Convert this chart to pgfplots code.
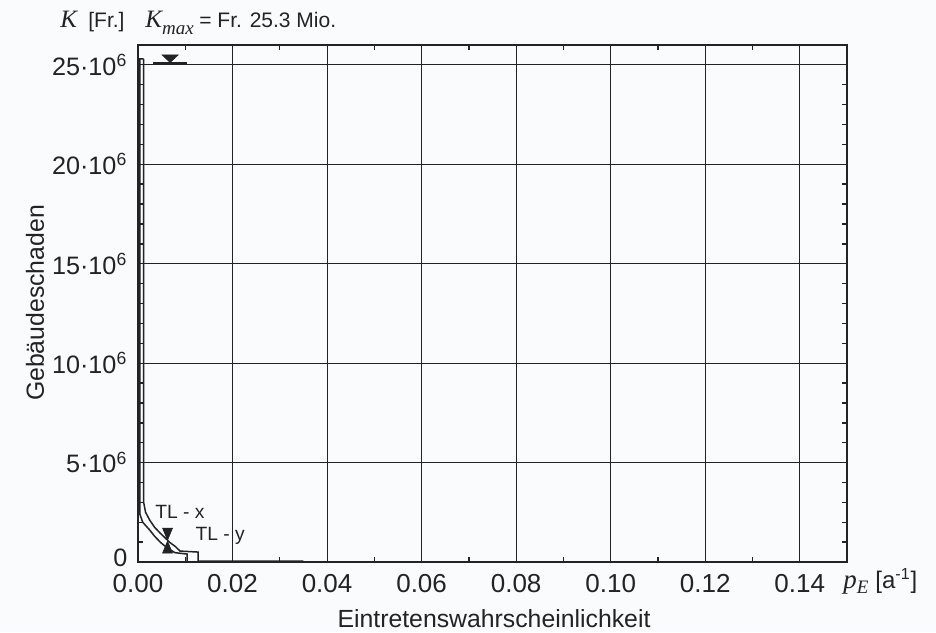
\documentclass[border=0pt]{standalone}
\usepackage{fontspec}
\setmainfont{Liberation Sans}
\newfontfamily\serifit{Liberation Serif}
\usepackage{pgfplots}
\pgfplotsset{compat=1.18}
\definecolor{ink}{RGB}{35,35,35}
\definecolor{paper}{RGB}{249,251,253}

\begin{document}
\fontsize{12.4}{15}\selectfont
\begin{tikzpicture}
\fill[paper] (-69pt,-35pt) rectangle (399pt,281pt);
\begin{axis}[
    at={(0,0)}, anchor=south west,
    scale only axis, width=354.5pt, height=258.5pt,
    xmin=0, xmax=0.15, ymin=0, ymax=26e6,
    xtick={0,0.02,0.04,0.06,0.08,0.10,0.12,0.14},
    xticklabels={0.00,0.02,0.04,0.06,0.08,0.10,0.12,0.14},
    ytick={0,5e6,10e6,15e6,20e6,25e6},
    yticklabels={\raisebox{4pt}{0},5·10\textsuperscript{6},10·10\textsuperscript{6},15·10\textsuperscript{6},20·10\textsuperscript{6},25·10\textsuperscript{6}},
    scaled y ticks=false, scaled x ticks=false,
    minor x tick num=1, minor y tick num=4,
    tick align=inside,
    major tick length=0pt, minor tick length=2.6pt,
    every tick/.style={ink, line width=0.7pt},
    grid=major,
    major grid style={ink, line width=0.5pt},
    axis line style={ink, line width=0.8pt},
    ticklabel style={ink},
    xticklabel style={yshift=-2pt, font=\fontsize{13}{15}\selectfont},
    yticklabel style={xshift=-1pt, font=\fontsize{12.6}{15}\selectfont},
]

% TL - x
\addplot[ink, line width=0.75pt] coordinates {
    (0.0012,25.3e6) (0.0012,3.0e6) (0.0016,2.5e6) (0.0025,2.1e6)
    (0.0035,1.75e6) (0.0047,1.45e6) (0.0058,1.2e6) (0.0068,0.97e6)
    (0.0079,0.78e6) (0.0089,0.55e6) (0.0127,0.5e6) (0.0127,0.05e6)
    (0.035,0.05e6)
};

% TL - y
\addplot[ink, line width=0.75pt] coordinates {
    (0.0012,25.3e6) (0.0004,25.3e6) (0.0004,2.4e6) (0.0010,2.0e6)
    (0.0025,1.6e6) (0.0035,1.3e6) (0.0047,1.0e6) (0.0061,0.72e6)
    (0.0078,0.47e6) (0.0104,0.4e6) (0.0104,0)
};

% Kmax level
\addplot[ink, line width=0.6pt] coordinates {(0.0032,25.1e6) (0.0104,25.1e6)};
\addplot[ink, fill=ink, line width=0.3pt] coordinates {
    (0.0051,25.5e6) (0.0085,25.5e6) (0.0068,25.12e6)} -- cycle;

% interval markers
\addplot[ink, fill=ink, line width=0.3pt] coordinates {
    (0.0052,1.7e6) (0.0073,1.7e6) (0.00625,1.1e6)} -- cycle;
\addplot[ink, fill=ink, line width=0.3pt] coordinates {
    (0.0052,0.45e6) (0.0073,0.45e6) (0.00625,1.05e6)} -- cycle;

\node[ink, anchor=west, inner sep=0pt, font=\fontsize{9.6}{11}\selectfont]
    at (axis cs:0.0036,2.5e6) {TL - x};
\node[ink, anchor=west, inner sep=0pt, font=\fontsize{9.6}{11}\selectfont]
    at (axis cs:0.0121,1.3e6) {TL - y};
\end{axis}

% header and axis names
\node[ink, anchor=base west, inner sep=0pt, font=\fontsize{12.5}{14}\selectfont\serifit\itshape]
    at (-39pt,267pt) {K};
\node[ink, anchor=base west, inner sep=0pt, font=\fontsize{10.5}{12}\selectfont]
    at (-25pt,267pt) {[Fr.]};
\node[ink, anchor=base west, inner sep=0pt, font=\fontsize{12.5}{14}\selectfont\serifit\itshape]
    at (3.5pt,267pt) {K\raisebox{-3.5pt}{\fontsize{9.5}{11}\selectfont max}};
\node[ink, anchor=base west, inner sep=0pt, font=\fontsize{10.5}{12}\selectfont]
    at (30.5pt,267pt) {= Fr. 25.3 Mio.};
\node[ink, anchor=base west, inner sep=0pt, font=\fontsize{13.5}{15}\selectfont\serifit\itshape]
    at (352.5pt,-13pt) {p\raisebox{-2.5pt}{\fontsize{9.5}{11}\selectfont E}};
\node[ink, anchor=base west, inner sep=0pt, font=\fontsize{12}{14}\selectfont]
    at (368.5pt,-13pt) {[a\textsuperscript{-1}]};
\node[ink] at (178pt,-28.5pt) {Eintretenswahrscheinlichkeit};
\node[ink, rotate=90] at (-51.5pt,129.5pt) {Gebäudeschaden};

\pgfresetboundingbox
\path (-69pt,-35pt) rectangle (399pt,281pt);
\end{tikzpicture}
\end{document}
